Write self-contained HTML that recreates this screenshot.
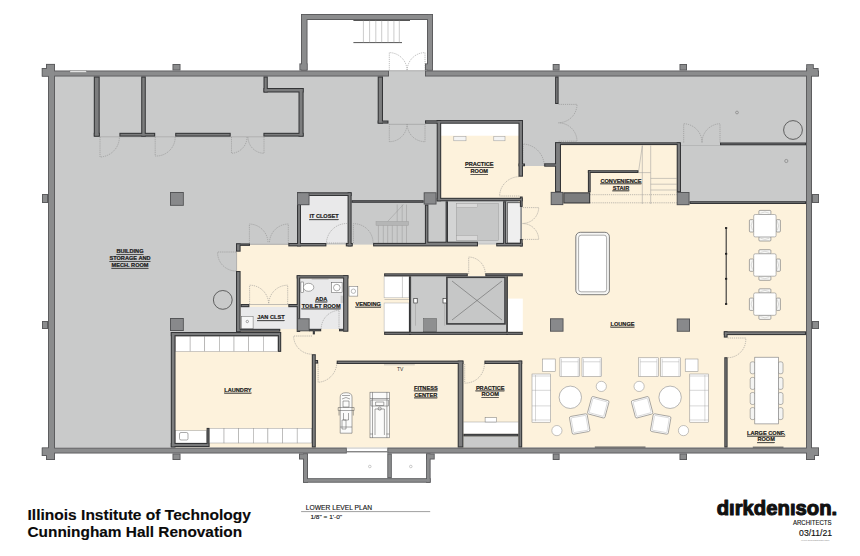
<!DOCTYPE html>
<html><head><meta charset="utf-8"><style>
html,body{margin:0;padding:0;background:#fff;width:860px;height:556px;overflow:hidden}
svg{display:block}
.exts{fill:#58595b} .extf{fill:#8b8c8d}
.ws{fill:#343537} .wf{fill:#7c7d7e}
.cols{fill:#505153} .colf{fill:#88898b}
.ln{stroke:#555;stroke-width:0.6}
.ln2{stroke:#999;stroke-width:0.5}
.ln3{stroke:#555;stroke-width:1}
.ln4{stroke:#777;stroke-width:0.7}
.rail{stroke:#333;stroke-width:1.1}
.thr{stroke:#666;stroke-width:1.2}
.dr{fill:none;stroke:#888;stroke-width:0.55;stroke-dasharray:1.2 0.9}
text{font-family:"Liberation Sans",sans-serif}
.lb{font-weight:bold;fill:#1a1a1a;stroke:#1a1a1a;stroke-width:0.2;text-decoration:underline}
</style></head><body>
<svg width="860" height="556" viewBox="0 0 860 556">
<rect x="55" y="76" width="751" height="371.5" fill="#c9caca" />
<rect x="236.8" y="244.6" width="569.2" height="202.9" fill="#fdf2dc" />
<rect x="522" y="203" width="284" height="44" fill="#fdf2dc" />
<rect x="518.5" y="166" width="36.5" height="37" fill="#fdf2dc" />
<rect x="558" y="145" width="122" height="58" fill="#fdf2dc" />
<rect x="441" y="124" width="78" height="75" fill="#fdf2dc" />
<rect x="175" y="336" width="141" height="111.5" fill="#fdf2dc" />
<rect x="441" y="123.7" width="78" height="12.0" fill="#ffffff" />
<rect x="301" y="196" width="46.6" height="47" fill="#e9e9ea" />
<rect x="240.6" y="307" width="56.4" height="22" fill="#e9e9ea" />
<rect x="300" y="278.5" width="43" height="50.5" fill="#e9e9ea" />
<rect x="351" y="203" width="74" height="40.5" fill="#c9caca" />
<rect x="428" y="203" width="18" height="40.5" fill="#c9caca" />
<rect x="448" y="201" width="55" height="42" fill="#d3d4d4" />
<rect x="456.4" y="203.4" width="41.9" height="36.9" fill="#c6c7c7" stroke="#9a9a9a" stroke-width="0.5"/>
<rect x="456.4" y="203.4" width="21.3" height="4.1" fill="#d8d8d8" stroke="#999" stroke-width="0.4"/>
<rect x="456.4" y="235.5" width="21.3" height="4.8" fill="#d8d8d8" stroke="#999" stroke-width="0.4"/>
<rect x="507.3" y="202.7" width="13.7" height="40.4" fill="#efefef" stroke="#444" stroke-width="0.8"/>
<rect x="411" y="276" width="95" height="56" fill="#c9caca" />
<rect x="508" y="298.6" width="14.8" height="33.2" fill="#ffffff" />
<rect x="680" y="145" width="126" height="56" fill="#c9caca" />
<rect x="384.1" y="276.3" width="24.9" height="21.5" fill="#ffffff" stroke="#aaa" stroke-width="0.5"/>
<line class="ln2" x1="402.4" y1="276.3" x2="402.4" y2="297.8"/>
<rect x="384.1" y="303" width="24.9" height="28.8" fill="#ffffff" stroke="#aaa" stroke-width="0.5"/>
<line class="ln2" x1="384.5" y1="299.5" x2="409" y2="299.5"/>
<rect x="346.8" y="447.8" width="40.5" height="5.5" fill="#ffffff" />
<line class="ln2" x1="346.8" y1="448.2" x2="387.3" y2="448.2"/>
<line class="ln3" x1="346.8" y1="451.8" x2="387.3" y2="451.8"/>
<rect x="307" y="20" width="120" height="50.5" fill="#ffffff" />
<rect x="389" y="70.3" width="36" height="6.3" fill="#c9caca" />
<line class="ln3" x1="353.4" y1="20.5" x2="410" y2="20.5"/>
<line class="ln3" x1="353.4" y1="42.6" x2="402" y2="42.6"/>
<line class="ln2" x1="363.4" y1="20.5" x2="363.4" y2="42.6"/>
<line class="ln2" x1="369.6" y1="20.5" x2="369.6" y2="42.6"/>
<line class="ln2" x1="375.8" y1="20.5" x2="375.8" y2="42.6"/>
<line class="ln2" x1="381.7" y1="20.5" x2="381.7" y2="42.6"/>
<line class="ln2" x1="388" y1="20.5" x2="388" y2="42.6"/>
<line class="ln2" x1="393.9" y1="20.5" x2="393.9" y2="42.6"/>
<line class="ln2" x1="399.3" y1="20.5" x2="399.3" y2="42.6"/>
<rect x="307" y="453.5" width="119" height="24.7" fill="#ffffff" />
<circle cx="369.8" cy="466.5" r="1.3" class="ln2" fill="none"/><circle cx="410.8" cy="466.5" r="1.3" class="ln2" fill="none"/>
<line class="ln2" x1="99.7" y1="136.8" x2="263.4" y2="136.8"/>
<path class="dr" d="M100 137 L100 157 A20.0 20.0 0 0 0 119.4 137"/>
<path class="dr" d="M155.2 137 L155.2 156 A19.0 19.0 0 0 0 175.2 137"/>
<path class="dr" d="M231.5 137 L231.5 153.3 A16.3 16.3 0 0 0 247 137"/>
<path class="dr" d="M264 137 L264 153.3 A16.3 16.3 0 0 1 248 137"/>
<path class="dr" d="M389.3 70.5 L389.3 52.6 A17.9 17.9 0 0 1 407 70.5"/>
<path class="dr" d="M425 70.5 L425 52.6 A17.9 17.9 0 0 0 407.2 70.5"/>
<path class="dr" d="M389.3 124 L389.3 141.7 A17.7 17.7 0 0 0 407 124"/>
<path class="dr" d="M425 124 L425 141.7 A17.7 17.7 0 0 1 407.2 124"/>
<path class="dr" d="M558.6 104.4 L577 104.4 A18.4 18.4 0 0 1 558.6 122.7"/>
<path class="dr" d="M558.6 141.2 L577 141.2 A18.4 18.4 0 0 0 558.6 122.9"/>
<rect x="453.8" y="136.3" width="12.2" height="4.5" fill="#f4f4f4" stroke="#999" stroke-width="0.5"/>
<rect x="493.8" y="136.3" width="11.2" height="4.5" fill="#f4f4f4" stroke="#999" stroke-width="0.5"/>
<path class="dr" d="M519.4 196 L499.6 196 A19.8 19.8 0 0 1 519.4 176.7"/>
<path class="dr" d="M523 166 L523 144 A22.0 22.0 0 0 1 544.2 166"/>
<path class="dr" d="M522.7 207.6 L538.7 207.6 A16.0 16.0 0 0 1 522.7 223.4"/>
<path class="dr" d="M522.7 239.4 L538.7 239.4 A16.0 16.0 0 0 0 522.7 223.6"/>
<text class="lb" x="464.99" y="166.3" style="font-size:6.16px" textLength="28.62" lengthAdjust="spacingAndGlyphs">PRACTICE</text>
<text class="lb" x="470.59" y="173.2" style="font-size:6.16px" textLength="17.42" lengthAdjust="spacingAndGlyphs">ROOM</text>
<line class="ln2" x1="642.3" y1="145.8" x2="638.4" y2="172.6"/>
<line class="ln2" x1="642.3" y1="145.5" x2="642.3" y2="204"/>
<line class="ln2" x1="650.7" y1="145.5" x2="650.7" y2="204"/>
<line class="ln2" x1="638.4" y1="172.6" x2="650.7" y2="172.6"/>
<line class="ln2" x1="650.7" y1="178.4" x2="676.7" y2="178.4"/>
<line class="ln2" x1="650.7" y1="184.2" x2="676.7" y2="184.2"/>
<line class="ln2" x1="650.7" y1="190" x2="676.7" y2="190"/>
<path class="dr" d="M590 194.7 H676.7 M590 202.8 H676.7"/>
<rect x="681" y="145" width="39" height="0.6" fill="#aaa" />
<path class="dr" d="M683.7 142.5 L683.7 123.7 A18.8 18.8 0 0 1 702 142.5"/>
<path class="dr" d="M720 142.5 L720 123.7 A18.8 18.8 0 0 0 702 142.5"/>
<text class="lb" x="600.46" y="182.5" style="font-size:6.16px" textLength="41.07" lengthAdjust="spacingAndGlyphs">CONVENIENCE</text>
<text class="lb" x="612.81" y="189.5" style="font-size:6.16px" textLength="16.38" lengthAdjust="spacingAndGlyphs">STAIR</text>
<circle cx="786.3" cy="161" r="1.6" fill="none" stroke="#777" stroke-width="0.6"/>
<circle cx="737" cy="112.5" r="1.4" fill="none" stroke="#777" stroke-width="0.6"/>
<circle cx="793" cy="130" r="9.4" fill="none" stroke="#444" stroke-width="0.8"/>
<text class="lb" x="309.38" y="218.4" style="font-size:6.16px" textLength="29.24" lengthAdjust="spacingAndGlyphs">IT CLOSET</text>
<path class="dr" d="M346.8 243 L326.4 243 A20.4 20.4 0 0 1 346.8 223.5"/>
<path class="dr" d="M353.4 243 L353.4 223.7 A19.3 19.3 0 0 1 373.1 243"/>
<rect x="376" y="221.4" width="32.6" height="4.1" fill="#b5b6b6" stroke="#999" stroke-width="0.4"/>
<line class="ln2" x1="378.4" y1="225.5" x2="378.4" y2="243"/>
<line class="ln2" x1="383.3" y1="225.5" x2="383.3" y2="243"/>
<line class="ln2" x1="387.7" y1="225.5" x2="387.7" y2="243"/>
<line class="ln2" x1="392.3" y1="225.5" x2="392.3" y2="243"/>
<line class="ln2" x1="397.2" y1="225.5" x2="397.2" y2="243"/>
<line class="ln2" x1="402.2" y1="225.5" x2="402.2" y2="243"/>
<line class="ln2" x1="406.5" y1="225.5" x2="406.5" y2="243"/>
<line class="ln2" x1="397.2" y1="204.5" x2="397.2" y2="221.4"/>
<line class="ln2" x1="402.2" y1="204.5" x2="402.2" y2="221.4"/>
<line class="ln2" x1="406.5" y1="204.5" x2="406.5" y2="221.4"/>
<line class="ln2" x1="387.7" y1="221.4" x2="403.4" y2="204.5"/>
<path class="dr" d="M249.4 243 L249.4 224 A19.0 19.0 0 0 1 268 243"/>
<path class="dr" d="M288.3 243 L288.3 224 A19.0 19.0 0 0 0 269.5 243"/>
<path class="dr" d="M236 252 L217.6 252 A18.4 18.4 0 0 0 236 271"/>
<circle cx="222.8" cy="299.9" r="9.4" fill="none" stroke="#444" stroke-width="0.8"/>
<path class="dr" d="M249.6 304 L249.6 285.2 A18.8 18.8 0 0 1 268.6 304"/>
<path class="dr" d="M287.7 304 L287.7 285.2 A18.8 18.8 0 0 0 268.8 304"/>
<rect x="241.6" y="316.6" width="11.5" height="12.2" fill="#f7f7f7" stroke="#666" stroke-width="0.5"/>
<circle cx="247.3" cy="321.5" r="1.2" fill="none" stroke="#555" stroke-width="0.5"/>
<text class="lb" x="257.21" y="319.4" style="font-size:6.16px" textLength="27.38" lengthAdjust="spacingAndGlyphs">JAN CLST</text>
<rect x="300.9" y="282" width="2.5" height="10.6" fill="#fff" stroke="#555" stroke-width="0.5"/>
<ellipse cx="308.6" cy="287.3" rx="5.2" ry="4" fill="#fff" stroke="#555" stroke-width="0.5"/>
<rect x="331.6" y="282.7" width="10.5" height="9.9" fill="#fff" stroke="#555" stroke-width="0.5"/>
<circle cx="336.8" cy="287.6" r="3.3" fill="none" stroke="#555" stroke-width="0.5"/>
<line class="ln2" x1="311.7" y1="279.2" x2="328.5" y2="279.2"/>
<rect x="340.6" y="295.7" width="3.6" height="7.3" fill="#ccc" />
<path class="dr" d="M339 329 L339 310.3 A18.7 18.7 0 0 0 321.2 329"/>
<text class="lb" x="315.13" y="300.7" style="font-size:6.16px" textLength="12.13" lengthAdjust="spacingAndGlyphs">ADA</text>
<text class="lb" x="301.81" y="307.6" style="font-size:6.16px" textLength="38.78" lengthAdjust="spacingAndGlyphs">TOILET ROOM</text>
<rect x="349" y="286.3" width="8.8" height="9.8" fill="#fff" stroke="#666" stroke-width="0.5"/>
<circle cx="353.4" cy="291.2" r="2.2" fill="none" stroke="#777" stroke-width="0.5"/>
<text class="lb" x="355.44" y="305.9" style="font-size:6.16px" textLength="25.52" lengthAdjust="spacingAndGlyphs">VENDING</text>
<rect x="175.5" y="336.2" width="14.63" height="15.2" fill="#ffffff" stroke="#999" stroke-width="0.5"/>
<rect x="190.13" y="336.2" width="14.63" height="15.2" fill="#ffffff" stroke="#999" stroke-width="0.5"/>
<rect x="204.76" y="336.2" width="14.63" height="15.2" fill="#ffffff" stroke="#999" stroke-width="0.5"/>
<rect x="219.39" y="336.2" width="14.63" height="15.2" fill="#ffffff" stroke="#999" stroke-width="0.5"/>
<rect x="234.02" y="336.2" width="14.63" height="15.2" fill="#ffffff" stroke="#999" stroke-width="0.5"/>
<rect x="248.65" y="336.2" width="14.63" height="15.2" fill="#ffffff" stroke="#999" stroke-width="0.5"/>
<rect x="263.28" y="336.2" width="14.63" height="15.2" fill="#ffffff" stroke="#999" stroke-width="0.5"/>
<rect x="209.4" y="428.3" width="14.63" height="14.7" fill="#ffffff" stroke="#999" stroke-width="0.5"/>
<rect x="224.03" y="428.3" width="14.63" height="14.7" fill="#ffffff" stroke="#999" stroke-width="0.5"/>
<rect x="238.66" y="428.3" width="14.63" height="14.7" fill="#ffffff" stroke="#999" stroke-width="0.5"/>
<rect x="253.29" y="428.3" width="14.63" height="14.7" fill="#ffffff" stroke="#999" stroke-width="0.5"/>
<rect x="267.92" y="428.3" width="14.63" height="14.7" fill="#ffffff" stroke="#999" stroke-width="0.5"/>
<rect x="282.55" y="428.3" width="14.63" height="14.7" fill="#ffffff" stroke="#999" stroke-width="0.5"/>
<rect x="297.18" y="428.3" width="14.63" height="14.7" fill="#ffffff" stroke="#999" stroke-width="0.5"/>
<rect x="175.5" y="430.7" width="31.1" height="12.3" fill="#ffffff" stroke="#999" stroke-width="0.5"/>
<rect x="179.5" y="432.5" width="8.5" height="7.5" fill="#fff" stroke="#555" stroke-width="0.5" rx="1.5"/>
<path class="dr" d="M312 336 L293.6 336 A18.4 18.4 0 0 0 312 354.2"/>
<text class="lb" x="224.32" y="391.9" style="font-size:6.16px" textLength="27.17" lengthAdjust="spacingAndGlyphs">LAUNDRY</text>
<path class="dr" d="M318.1 362.4 L318.1 382.3 A19.9 19.9 0 0 0 336.8 362.4"/>
<path class="dr" d="M464.7 364 L464.7 383.1 A19.1 19.1 0 0 0 484.4 364"/>
<line class="ln2" x1="384" y1="364.8" x2="414.8" y2="364.8"/>
<text x="400.2" y="371.3" style="font-size:5px;fill:#333;text-anchor:middle">TV</text>
<text class="lb" x="413.98" y="389.6" style="font-size:6.16px" textLength="23.65" lengthAdjust="spacingAndGlyphs">FITNESS</text>
<text class="lb" x="414.29" y="396.6" style="font-size:6.16px" textLength="23.02" lengthAdjust="spacingAndGlyphs">CENTER</text>
<text class="lb" x="475.89" y="389.6" style="font-size:6.16px" textLength="28.62" lengthAdjust="spacingAndGlyphs">PRACTICE</text>
<text class="lb" x="481.49" y="396.2" style="font-size:6.16px" textLength="17.42" lengthAdjust="spacingAndGlyphs">ROOM</text>
<rect x="463.4" y="422" width="55.0" height="11.8" fill="#ffffff" />
<line class="ln2" x1="463.4" y1="422" x2="518.4" y2="422"/>
<rect x="463.4" y="436.4" width="55.0" height="11.1" fill="#c9caca" />
<rect x="485.1" y="417.7" width="11.5" height="4.3" fill="#fff" stroke="#777" stroke-width="0.5"/>
<g fill="none" stroke="#5f5f5f" stroke-width="0.55"><path d="M340.2 433.2 V397 q0 -4.3 5.9 -4.3 q5.9 0 5.9 4.3 V433.2 Z" fill="#fbfbfa"/><path d="M342 395.5 H350 M342 399 q4 -3 8 0 M343 401 h6 v6 h-6z M338.2 407.5 h15.9 v3 h-15.9z M339 410.5 v5 M353.3 410.5 v5 M343.5 413 v7 h5 v-7 M342 420 h4 v9 h-4 z M340.2 427 H352"/></g>
<g fill="none" stroke="#5f5f5f" stroke-width="0.55"><rect x="370" y="392.2" width="19.4" height="45.6" fill="#fbfbfa"/><path d="M370 398.5 H389.4 M372.5 392.2 V437.8 M386.9 392.2 V437.8 M371 400 h17.4 v6 h-17.4 z M375.6 402 h8.2 v3.5 h-8.2z M375 409 H384.4 M375 409 V435 M384.4 409 V435 M370 434 h3 M386.4 434 h3"/><circle cx="379.7" cy="408.6" r="1.6"/></g>
<rect x="446.9" y="277.3" width="58.1" height="46.6" fill="#c6c7c7" stroke="#3c3d3f" stroke-width="1.6"/>
<path d="M452 281 L502 320 M502 281 L452 320" stroke="#555" stroke-width="0.5"/>
<rect x="423.7" y="318.7" width="12.7" height="13.1" fill="#8e8f90" stroke="#555" stroke-width="0.5"/>
<path class="dr" d="M468.7 274 L468.7 257 A17.0 17.0 0 0 1 485.3 274"/>
<rect x="413.8" y="298.3" width="3.4" height="4.7" fill="#fff" stroke="#222" stroke-width="0.6"/>
<line class="ln2" x1="415.5" y1="303" x2="415.5" y2="325.7"/>
<rect x="443" y="298.3" width="3.4" height="4.7" fill="#fff" stroke="#222" stroke-width="0.6"/>
<line class="ln2" x1="444.7" y1="303" x2="444.7" y2="325.7"/>
<text class="lb" x="610.52" y="325.9" style="font-size:6.16px" textLength="23.96" lengthAdjust="spacingAndGlyphs">LOUNGE</text>
<rect x="575.8" y="232.3" width="33.6" height="62.4" rx="4.5" fill="#f6f6f4" stroke="#5f5f5f" stroke-width="0.8"/>
<rect x="578.6" y="235.2" width="28" height="56.6" rx="2.5" fill="#fff" stroke="#777" stroke-width="0.6"/>
<line class="rail" x1="726.2" y1="228" x2="726.2" y2="304"/>
<rect x="725" y="227.1" width="2.2" height="1.8" fill="#222"/>
<rect x="725" y="252.9" width="2.2" height="1.8" fill="#222"/>
<rect x="725" y="277.90000000000003" width="2.2" height="1.8" fill="#222"/>
<rect x="725" y="303.1" width="2.2" height="1.8" fill="#222"/>
<g fill="#f8f8f6" stroke="#6f6f6f" stroke-width="0.6"><rect x="758.9" y="210.39999999999998" width="12" height="4.3" rx="1"/><rect x="758.9" y="236.7" width="12" height="4.3" rx="1"/><rect x="749.4" y="219.7" width="4.3" height="12.3" rx="1"/><rect x="776.1" y="219.7" width="4.3" height="12.3" rx="1"/></g>
<path d="M760.4 213.2 q4.5 -2.5 9 0 M760.4 238.2 q4.5 2.5 9 0 M752.4 221.2 q-2.5 4.5 0 9 M777.4 221.2 q2.5 4.5 0 9" fill="none" stroke="#aaa" stroke-width="0.4"/>
<rect x="753.6999999999999" y="214.5" width="22.4" height="22.4" rx="1.5" fill="#fff" stroke="#888" stroke-width="0.6"/>
<g fill="#f8f8f6" stroke="#6f6f6f" stroke-width="0.6"><rect x="758.9" y="249.7" width="12" height="4.3" rx="1"/><rect x="758.9" y="276" width="12" height="4.3" rx="1"/><rect x="749.4" y="259" width="4.3" height="12.3" rx="1"/><rect x="776.1" y="259" width="4.3" height="12.3" rx="1"/></g>
<path d="M760.4 252.5 q4.5 -2.5 9 0 M760.4 277.5 q4.5 2.5 9 0 M752.4 260.5 q-2.5 4.5 0 9 M777.4 260.5 q2.5 4.5 0 9" fill="none" stroke="#aaa" stroke-width="0.4"/>
<rect x="753.6999999999999" y="253.8" width="22.4" height="22.4" rx="1.5" fill="#fff" stroke="#888" stroke-width="0.6"/>
<g fill="#f8f8f6" stroke="#6f6f6f" stroke-width="0.6"><rect x="758.9" y="288.8" width="12" height="4.3" rx="1"/><rect x="758.9" y="315.1" width="12" height="4.3" rx="1"/><rect x="749.4" y="298.1" width="4.3" height="12.3" rx="1"/><rect x="776.1" y="298.1" width="4.3" height="12.3" rx="1"/></g>
<path d="M760.4 291.6 q4.5 -2.5 9 0 M760.4 316.6 q4.5 2.5 9 0 M752.4 299.6 q-2.5 4.5 0 9 M777.4 299.6 q2.5 4.5 0 9" fill="none" stroke="#aaa" stroke-width="0.4"/>
<rect x="753.6999999999999" y="292.90000000000003" width="22.4" height="22.4" rx="1.5" fill="#fff" stroke="#888" stroke-width="0.6"/>
<path class="dr" d="M727.6 338 L745.7 338 A18.1 18.1 0 0 1 727.6 357.7"/>
<rect x="750.2" y="361.8" width="5" height="12" rx="2" fill="#f4f4f2" stroke="#7a7a7a" stroke-width="0.55"/><rect x="778" y="361.8" width="5" height="12" rx="2" fill="#f4f4f2" stroke="#7a7a7a" stroke-width="0.55"/>
<rect x="750.2" y="377.4" width="5" height="12" rx="2" fill="#f4f4f2" stroke="#7a7a7a" stroke-width="0.55"/><rect x="778" y="377.4" width="5" height="12" rx="2" fill="#f4f4f2" stroke="#7a7a7a" stroke-width="0.55"/>
<rect x="750.2" y="392.5" width="5" height="12" rx="2" fill="#f4f4f2" stroke="#7a7a7a" stroke-width="0.55"/><rect x="778" y="392.5" width="5" height="12" rx="2" fill="#f4f4f2" stroke="#7a7a7a" stroke-width="0.55"/>
<rect x="750.2" y="407.6" width="5" height="12" rx="2" fill="#f4f4f2" stroke="#7a7a7a" stroke-width="0.55"/><rect x="778" y="407.6" width="5" height="12" rx="2" fill="#f4f4f2" stroke="#7a7a7a" stroke-width="0.55"/>
<rect x="754.8" y="357.2" width="23.6" height="66.7" fill="#fff" stroke="#777" stroke-width="0.6"/>
<text class="lb" x="747.12" y="434.9" style="font-size:6.16px" textLength="37.96" lengthAdjust="spacingAndGlyphs">LARGE CONF.</text>
<text class="lb" x="757.39" y="441.4" style="font-size:6.16px" textLength="17.42" lengthAdjust="spacingAndGlyphs">ROOM</text>
<line class="thr" x1="752.8" y1="447.2" x2="783.5" y2="447.2"/>
<line class="thr" x1="594.8" y1="447.2" x2="645.5" y2="447.2"/>
<rect x="542.4" y="359" width="12.8" height="12.3" fill="#fff" stroke="#888" stroke-width="0.5"/>
<rect x="559.9" y="357.8" width="19.8" height="18.6" fill="#fff" stroke="#888" stroke-width="0.5"/>
<path d="M561.4 361.8 H578.2 M561.4 358.8 V376.4 M578.2 358.8 V376.4" stroke="#999" stroke-width="0.4" fill="none"/>
<rect x="582" y="357.8" width="19.7" height="18.6" fill="#fff" stroke="#888" stroke-width="0.5"/>
<path d="M583.5 361.8 H600.2 M583.5 358.8 V376.4 M600.2 358.8 V376.4" stroke="#999" stroke-width="0.4" fill="none"/>
<rect x="532" y="374" width="18.6" height="48.2" fill="#fff" stroke="#888" stroke-width="0.5"/>
<path d="M535.5 375 V421.2 M532 390.3 H550.6 M532 405.9 H550.6 M532 376 H550.6 M532 420 H550.6" stroke="#999" stroke-width="0.4"/>
<circle cx="570.3" cy="397.3" r="11.2" fill="#fff" stroke="#888" stroke-width="0.6"/>
<circle cx="601.3" cy="386.4" r="5.1" fill="#fff" stroke="#888" stroke-width="0.5"/>
<circle cx="556.9" cy="430.6" r="5.1" fill="#fff" stroke="#888" stroke-width="0.5"/>
<g transform="translate(598.3 407.3) rotate(15)"><rect x="-9" y="-9" width="18" height="18" rx="1.5" fill="#fff" stroke="#777" stroke-width="0.6"/><rect x="-7.5" y="-7.5" width="15" height="15" rx="1" fill="none" stroke="#aaa" stroke-width="0.4"/></g>
<g transform="translate(579.7 424) rotate(-10)"><rect x="-9" y="-9" width="18" height="18" rx="1.5" fill="#fff" stroke="#777" stroke-width="0.6"/><rect x="-7.5" y="-7.5" width="15" height="15" rx="1" fill="none" stroke="#aaa" stroke-width="0.4"/></g>
<rect x="685.2" y="359" width="12.8" height="12.3" fill="#fff" stroke="#888" stroke-width="0.5"/>
<rect x="660.7" y="357.8" width="19.8" height="18.6" fill="#fff" stroke="#888" stroke-width="0.5"/>
<path d="M662.2 361.8 H679.0 M662.2 358.8 V376.4 M679.0 358.8 V376.4" stroke="#999" stroke-width="0.4" fill="none"/>
<rect x="638.7" y="357.8" width="19.7" height="18.6" fill="#fff" stroke="#888" stroke-width="0.5"/>
<path d="M640.2 361.8 H656.9 M640.2 358.8 V376.4 M656.9 358.8 V376.4" stroke="#999" stroke-width="0.4" fill="none"/>
<rect x="689.8" y="374" width="18.6" height="48.2" fill="#fff" stroke="#888" stroke-width="0.5"/>
<path d="M704.9 375 V421.2 M689.8 390.3 H708.4 M689.8 405.9 H708.4 M689.8 376 H708.4 M689.8 420 H708.4" stroke="#999" stroke-width="0.4"/>
<circle cx="670.1" cy="397.3" r="11.2" fill="#fff" stroke="#888" stroke-width="0.6"/>
<circle cx="639.1" cy="386.4" r="5.1" fill="#fff" stroke="#888" stroke-width="0.5"/>
<circle cx="683.5" cy="430.6" r="5.1" fill="#fff" stroke="#888" stroke-width="0.5"/>
<g transform="translate(642.1 407.3) rotate(-15)"><rect x="-9" y="-9" width="18" height="18" rx="1.5" fill="#fff" stroke="#777" stroke-width="0.6"/><rect x="-7.5" y="-7.5" width="15" height="15" rx="1" fill="none" stroke="#aaa" stroke-width="0.4"/></g>
<g transform="translate(660.7 424) rotate(10)"><rect x="-9" y="-9" width="18" height="18" rx="1.5" fill="#fff" stroke="#777" stroke-width="0.6"/><rect x="-7.5" y="-7.5" width="15" height="15" rx="1" fill="none" stroke="#aaa" stroke-width="0.4"/></g>
<path d="M250 244.3 H288.3 M389 124.3 H425 M389 70.8 H425 M249.4 304.5 H288.3 M236.6 252 V271" stroke="#999" stroke-width="0.6" fill="none"/>
<text class="lb" x="116.47" y="253.2" style="font-size:6.16px" textLength="27.06" lengthAdjust="spacingAndGlyphs">BUILDING</text>
<text class="lb" x="109.46" y="260.1" style="font-size:6.16px" textLength="41.07" lengthAdjust="spacingAndGlyphs">STORAGE AND</text>
<text class="lb" x="111.49" y="267.0" style="font-size:6.16px" textLength="37.02" lengthAdjust="spacingAndGlyphs">MECH. ROOM</text>
<text x="27.5" y="519.8" style="font-size:15.55px;font-weight:bold;fill:#0a0a0a;stroke:#0a0a0a;stroke-width:0.15">Illinois Institute of Technology</text>
<text x="27.5" y="536.7" style="font-size:15.4px;font-weight:bold;fill:#0a0a0a;stroke:#0a0a0a;stroke-width:0.15">Cunningham Hall Renovation</text>
<text x="305.8" y="510.2" style="font-size:6.7px;fill:#111;stroke:#111;stroke-width:0.12" textLength="66.3" lengthAdjust="spacingAndGlyphs">LOWER LEVEL PLAN</text>
<line class="ln4" x1="301.1" y1="511.6" x2="430.2" y2="511.6"/>
<text x="310.4" y="518.9" style="font-size:5.8px;fill:#111;stroke:#111;stroke-width:0.12" textLength="31.7" lengthAdjust="spacingAndGlyphs">1/8" = 1'-0"</text>
<text x="716.7" y="515.3" style="font-size:20.9px;font-weight:bold;fill:#111;stroke:#111;stroke-width:1.1;stroke-linejoin:round" textLength="120.5" lengthAdjust="spacingAndGlyphs">dırkdenıson.</text>
<text x="792.9" y="524.6" style="font-size:6.6px;fill:#111;stroke:#111;stroke-width:0.12" textLength="38.7" lengthAdjust="spacingAndGlyphs">ARCHITECTS</text>
<text x="799.1" y="535.6" style="font-size:8.6px;fill:#111;stroke:#111;stroke-width:0.15" textLength="33" lengthAdjust="spacingAndGlyphs">03/11/21</text>
<text x="801" y="541" style="font-size:2px;fill:#888" textLength="28.5" lengthAdjust="spacingAndGlyphs">WWW.DIRKDENISON.COM</text>
<g class="exts"><rect x="42" y="70.5" width="347" height="6.0"/><rect x="425" y="70.5" width="394" height="6.0"/><rect x="48" y="70.5" width="7" height="383.0"/><rect x="806" y="70.5" width="6" height="383.0"/><rect x="42" y="447.6" width="304.8" height="5.9"/><rect x="387.3" y="447.6" width="431.7" height="5.9"/><rect x="46" y="63.9" width="9" height="6.6"/><rect x="41.7" y="68" width="13.3" height="8.6"/><rect x="806.2" y="64.2" width="7.6" height="6.3"/><rect x="806.2" y="68" width="12.4" height="8.3"/><rect x="41.7" y="447.6" width="13.3" height="8.4"/><rect x="46" y="453.5" width="9" height="6.5"/><rect x="806" y="447.6" width="13" height="8.4"/><rect x="806" y="453.5" width="9" height="6.5"/><rect x="172.5" y="64" width="8.0" height="6.5"/><rect x="172.5" y="453.5" width="8.0" height="6.5"/><rect x="552.7" y="64" width="6.9" height="6.5"/><rect x="552.7" y="453.5" width="6.9" height="6.5"/><rect x="679.5" y="64" width="7.5" height="6.5"/><rect x="679.5" y="453.5" width="7.5" height="6.5"/><rect x="42" y="194" width="6" height="9"/><rect x="812" y="194" width="7" height="9"/><rect x="42" y="321" width="6" height="8"/><rect x="812" y="321" width="7" height="8"/><rect x="301" y="14" width="6.5" height="56.5"/><rect x="301" y="14" width="132" height="6"/><rect x="427" y="14" width="6" height="56.5"/><rect x="299.4" y="63.4" width="8.1" height="7.1"/><rect x="425" y="63.4" width="8" height="7.1"/><rect x="299" y="453.5" width="9" height="6.0"/><rect x="303" y="453.5" width="5" height="29.2"/><rect x="303" y="478.2" width="127.6" height="4.5"/><rect x="426.1" y="453.5" width="4.5" height="29.2"/><rect x="426.1" y="453.5" width="8.6" height="6.0"/><rect x="387.3" y="453.5" width="4.5" height="24.7"/></g><g class="extf"><rect x="42.9" y="71.4" width="345.2" height="4.2"/><rect x="425.9" y="71.4" width="392.2" height="4.2"/><rect x="48.9" y="71.4" width="5.2" height="381.2"/><rect x="806.9" y="71.4" width="4.2" height="381.2"/><rect x="42.9" y="448.5" width="303.0" height="4.1"/><rect x="388.2" y="448.5" width="429.9" height="4.1"/><rect x="46.9" y="64.8" width="7.2" height="4.8"/><rect x="42.6" y="68.9" width="11.5" height="6.8"/><rect x="807.1" y="65.1" width="5.8" height="4.5"/><rect x="807.1" y="68.9" width="10.6" height="6.5"/><rect x="42.6" y="448.5" width="11.5" height="6.6"/><rect x="46.9" y="454.4" width="7.2" height="4.7"/><rect x="806.9" y="448.5" width="11.2" height="6.6"/><rect x="806.9" y="454.4" width="7.2" height="4.7"/><rect x="173.4" y="64.9" width="6.2" height="4.7"/><rect x="173.4" y="454.4" width="6.2" height="4.7"/><rect x="553.6" y="64.9" width="5.1" height="4.7"/><rect x="553.6" y="454.4" width="5.1" height="4.7"/><rect x="680.4" y="64.9" width="5.7" height="4.7"/><rect x="680.4" y="454.4" width="5.7" height="4.7"/><rect x="42.9" y="194.9" width="4.2" height="7.2"/><rect x="812.9" y="194.9" width="5.2" height="7.2"/><rect x="42.9" y="321.9" width="4.2" height="6.2"/><rect x="812.9" y="321.9" width="5.2" height="6.2"/><rect x="301.9" y="14.9" width="4.7" height="54.7"/><rect x="301.9" y="14.9" width="130.2" height="4.2"/><rect x="427.9" y="14.9" width="4.2" height="54.7"/><rect x="300.3" y="64.3" width="6.3" height="5.3"/><rect x="425.9" y="64.3" width="6.2" height="5.3"/><rect x="299.9" y="454.4" width="7.2" height="4.2"/><rect x="303.9" y="454.4" width="3.2" height="27.4"/><rect x="303.9" y="479.1" width="125.8" height="2.7"/><rect x="427.0" y="454.4" width="2.7" height="27.4"/><rect x="427.0" y="454.4" width="6.8" height="4.2"/><rect x="388.2" y="454.4" width="2.7" height="22.9"/></g>
<g class="ws"><rect x="93.8" y="76.5" width="5.9" height="60.1"/><rect x="141.2" y="76.5" width="4.6" height="60.1"/><rect x="93.8" y="132.8" width="5.9" height="3.8"/><rect x="119.4" y="132.8" width="35.8" height="3.8"/><rect x="175.2" y="132.8" width="55.5" height="3.8"/><rect x="263.4" y="132.8" width="40.2" height="3.8"/><rect x="263.5" y="76.5" width="4.3" height="16.0"/><rect x="263.5" y="88" width="40.1" height="4.5"/><rect x="298.5" y="88" width="5.1" height="48.6"/><rect x="377.7" y="76.5" width="5.3" height="47.1"/><rect x="377.7" y="120.5" width="10.8" height="3.1"/><rect x="425" y="120.3" width="16" height="3.4"/><rect x="555.1" y="76.5" width="3.5" height="27.5"/><rect x="436.7" y="120.1" width="4.5" height="81.2"/><rect x="436.7" y="197.8" width="86.0" height="3.5"/><rect x="518.5" y="120.1" width="4.5" height="56.6"/><rect x="436.7" y="120.1" width="86.3" height="3.6"/><rect x="519.9" y="196.5" width="2.8" height="10.4"/><rect x="519.9" y="239" width="2.8" height="7.5"/><rect x="518.5" y="163.5" width="6.5" height="2.8"/><rect x="544.2" y="163.3" width="14.4" height="3.4"/><rect x="555" y="142.3" width="6" height="50.0"/><rect x="555" y="142.3" width="125.2" height="2.8"/><rect x="676.7" y="142.3" width="4.3" height="50.0"/><rect x="587.9" y="170.2" width="2.8" height="22.1"/><rect x="587.9" y="170.2" width="50.5" height="2.8"/><rect x="720" y="142.5" width="86" height="2.8"/><rect x="689.5" y="201.2" width="116.5" height="2.8"/><rect x="563.3" y="192.3" width="26.9" height="11.2"/><rect x="297" y="192.3" width="4" height="54.1"/><rect x="297" y="192.3" width="54.6" height="3.7"/><rect x="347.6" y="192.3" width="4.0" height="54.1"/><rect x="288.3" y="243" width="38.1" height="3.4"/><rect x="351.6" y="200.2" width="72.1" height="2.6"/><rect x="373.1" y="242.9" width="104.9" height="3.5"/><rect x="496.2" y="242.9" width="26.5" height="3.5"/><rect x="424.9" y="204.5" width="3.5" height="40.2"/><rect x="345.8" y="243" width="7.0" height="3.4"/><rect x="236" y="243.4" width="14" height="2.5"/><rect x="236" y="243.4" width="4.6" height="8.3"/><rect x="236" y="271" width="4.6" height="61.3"/><rect x="445.6" y="201.3" width="2.4" height="43.9"/><rect x="503.1" y="201.3" width="3.1" height="43.9"/><rect x="425" y="241.7" width="53" height="3.5"/><rect x="240.6" y="304" width="8.8" height="3.2"/><rect x="288.3" y="304" width="11.7" height="3.2"/><rect x="296.7" y="275.2" width="3.5" height="56.8"/><rect x="236" y="328.8" width="44.3" height="2.9"/><rect x="296.7" y="275.2" width="51.7" height="3.3"/><rect x="343.1" y="275.2" width="5.3" height="56.5"/><rect x="309" y="328.8" width="12.2" height="2.5"/><rect x="339" y="328.8" width="9" height="2.5"/><rect x="312.8" y="329" width="2.1" height="5.4"/><rect x="170.8" y="332" width="109.9" height="4.2"/><rect x="170.8" y="332" width="4.7" height="115.5"/><rect x="277.9" y="332" width="3.3" height="19.9"/><rect x="311.8" y="354.2" width="4.0" height="93.3"/><rect x="170.8" y="443" width="38.6" height="4"/><rect x="206.6" y="427.9" width="2.8" height="19.1"/><rect x="336.7" y="360.6" width="126.7" height="3.4"/><rect x="484.4" y="360.6" width="37.8" height="3.4"/><rect x="457.7" y="360.6" width="5.7" height="86.9"/><rect x="518.4" y="360.6" width="3.8" height="86.9"/><rect x="314.6" y="360" width="3.5" height="3.6"/><rect x="463.4" y="433.8" width="55.0" height="2.6"/><rect x="384.1" y="273.3" width="83.7" height="3.0"/><rect x="485.3" y="273.3" width="37.5" height="3.0"/><rect x="384.1" y="331.8" width="138.7" height="3.1"/><rect x="409" y="276.3" width="2.1" height="58.6"/><rect x="506.2" y="276.3" width="1.8" height="58.6"/><rect x="723.8" y="331.3" width="82.2" height="3.8"/><rect x="723.8" y="331.3" width="3.8" height="6.3"/><rect x="724.3" y="357.2" width="3.3" height="90.3"/></g><g class="wf"><rect x="94.85" y="77.55" width="3.8" height="58.0"/><rect x="142.25" y="77.55" width="2.5" height="58.0"/><rect x="94.85" y="133.85" width="3.8" height="1.7"/><rect x="120.45" y="133.85" width="33.7" height="1.7"/><rect x="176.25" y="133.85" width="53.4" height="1.7"/><rect x="264.45" y="133.85" width="38.1" height="1.7"/><rect x="264.55" y="77.55" width="2.2" height="13.9"/><rect x="264.55" y="89.05" width="38.0" height="2.4"/><rect x="299.55" y="89.05" width="3.0" height="46.5"/><rect x="378.75" y="77.55" width="3.2" height="45.0"/><rect x="378.75" y="121.55" width="8.7" height="1.0"/><rect x="426.05" y="121.35" width="13.9" height="1.3"/><rect x="556.15" y="77.55" width="1.4" height="25.4"/><rect x="437.75" y="121.15" width="2.4" height="79.1"/><rect x="437.75" y="198.85" width="83.9" height="1.4"/><rect x="519.55" y="121.15" width="2.4" height="54.5"/><rect x="437.75" y="121.15" width="84.2" height="1.5"/><rect x="520.95" y="197.55" width="0.7" height="8.3"/><rect x="520.95" y="240.05" width="0.7" height="5.4"/><rect x="519.55" y="164.55" width="4.4" height="0.7"/><rect x="545.25" y="164.35" width="12.3" height="1.3"/><rect x="556.05" y="143.35" width="3.9" height="47.9"/><rect x="556.05" y="143.35" width="123.1" height="0.7"/><rect x="677.75" y="143.35" width="2.2" height="47.9"/><rect x="588.95" y="171.25" width="0.7" height="20.0"/><rect x="588.95" y="171.25" width="48.4" height="0.7"/><rect x="721.05" y="143.55" width="83.9" height="0.7"/><rect x="690.55" y="202.25" width="114.4" height="0.7"/><rect x="564.35" y="193.35" width="24.8" height="9.1"/><rect x="298.05" y="193.35" width="1.9" height="52.0"/><rect x="298.05" y="193.35" width="52.5" height="1.6"/><rect x="348.65" y="193.35" width="1.9" height="52.0"/><rect x="289.35" y="244.05" width="36.0" height="1.3"/><rect x="352.65" y="201.25" width="70.0" height="0.5"/><rect x="374.15" y="243.95" width="102.8" height="1.4"/><rect x="497.25" y="243.95" width="24.4" height="1.4"/><rect x="425.95" y="205.55" width="1.4" height="38.1"/><rect x="346.85" y="244.05" width="4.9" height="1.3"/><rect x="237.05" y="244.45" width="11.9" height="0.4"/><rect x="237.05" y="244.45" width="2.5" height="6.2"/><rect x="237.05" y="272.05" width="2.5" height="59.2"/><rect x="446.65" y="202.35" width="0.3" height="41.8"/><rect x="504.15" y="202.35" width="1.0" height="41.8"/><rect x="426.05" y="242.75" width="50.9" height="1.4"/><rect x="241.65" y="305.05" width="6.7" height="1.1"/><rect x="289.35" y="305.05" width="9.6" height="1.1"/><rect x="297.75" y="276.25" width="1.4" height="54.7"/><rect x="237.05" y="329.85" width="42.2" height="0.8"/><rect x="297.75" y="276.25" width="49.6" height="1.2"/><rect x="344.15" y="276.25" width="3.2" height="54.4"/><rect x="310.05" y="329.85" width="10.1" height="0.4"/><rect x="340.05" y="329.85" width="6.9" height="0.4"/><rect x="313.85" y="330.05" width="0.3" height="3.3"/><rect x="171.85" y="333.05" width="107.8" height="2.1"/><rect x="171.85" y="333.05" width="2.6" height="113.4"/><rect x="278.95" y="333.05" width="1.2" height="17.8"/><rect x="312.85" y="355.25" width="1.9" height="91.2"/><rect x="171.85" y="444.05" width="36.5" height="1.9"/><rect x="207.65" y="428.95" width="0.7" height="17.0"/><rect x="337.75" y="361.65" width="124.6" height="1.3"/><rect x="485.45" y="361.65" width="35.7" height="1.3"/><rect x="458.75" y="361.65" width="3.6" height="84.8"/><rect x="519.45" y="361.65" width="1.7" height="84.8"/><rect x="315.65" y="361.05" width="1.4" height="1.5"/><rect x="464.45" y="434.85" width="52.9" height="0.5"/><rect x="385.15" y="274.35" width="81.6" height="0.9"/><rect x="486.35" y="274.35" width="35.4" height="0.9"/><rect x="385.15" y="332.85" width="136.6" height="1.0"/><rect x="410.05" y="277.35" width="0.3" height="56.5"/><rect x="507.25" y="277.35" width="0.3" height="56.5"/><rect x="724.85" y="332.35" width="80.1" height="1.7"/><rect x="724.85" y="332.35" width="1.7" height="4.2"/><rect x="725.35" y="358.25" width="1.2" height="88.2"/></g>
<g class="cols"><rect x="170" y="192" width="13.8" height="13.8"/><rect x="297" y="192.3" width="12.5" height="12.9"/><rect x="423.7" y="192.3" width="12.8" height="12.2"/><rect x="550.7" y="191.9" width="12.6" height="13.2"/><rect x="676.7" y="192" width="12.8" height="13.2"/><rect x="170" y="318" width="13.8" height="13"/><rect x="297.1" y="318.3" width="12.5" height="13.0"/><rect x="550" y="318.3" width="13.5" height="13.4"/><rect x="676.75" y="318.5" width="13.25" height="13.25"/></g><g class="colf"><rect x="170.9" y="192.9" width="12.0" height="12.0"/><rect x="297.9" y="193.2" width="10.7" height="11.1"/><rect x="424.6" y="193.2" width="11.0" height="10.4"/><rect x="551.6" y="192.8" width="10.8" height="11.4"/><rect x="677.6" y="192.9" width="11.0" height="11.4"/><rect x="170.9" y="318.9" width="12.0" height="11.2"/><rect x="298.0" y="319.2" width="10.7" height="11.2"/><rect x="550.9" y="319.2" width="11.7" height="11.6"/><rect x="677.65" y="319.4" width="11.45" height="11.45"/></g>
<rect x="70" y="70.6" width="16.3" height="1.8" fill="#e2e2e2" stroke="#777" stroke-width="0.3"/>
</svg>
</body></html>
